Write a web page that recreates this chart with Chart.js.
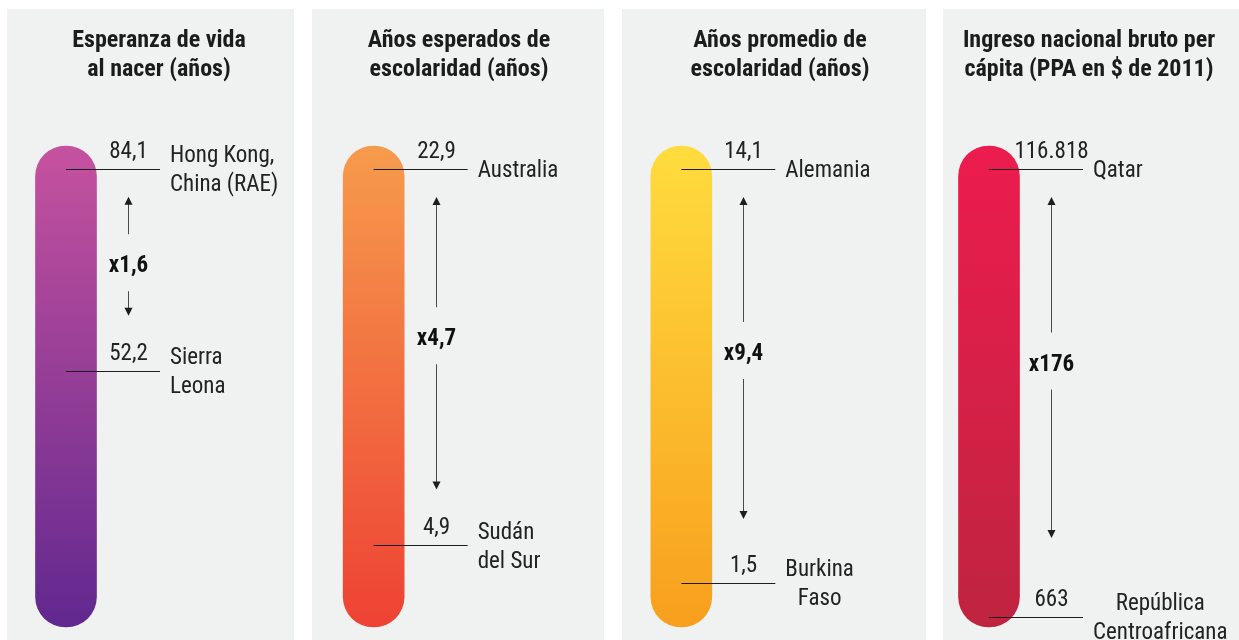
<!DOCTYPE html>
<html>
<head>
<meta charset="utf-8">
<script src="https://cdn.jsdelivr.net/npm/chart.js@4.4.1/dist/chart.umd.min.js"></script>
<style>
  body { margin: 0; background: #fff; }
  #wrap { position: relative; width: 1239px; height: 640px; }
</style>
</head>
<body>
<div id="wrap"><canvas id="chart"></canvas></div>
<script>
// ---- data ----
const indicators = ['Esperanza de vida', 'Años esperados de escolaridad', 'Años promedio de escolaridad', 'INB per cápita'];
const titles = [
  ['Esperanza de vida', 'al nacer (años)'],
  ['Años esperados de', 'escolaridad (años)'],
  ['Años promedio de', 'escolaridad (años)'],
  ['Ingreso nacional bruto per', 'cápita (PPA en $ de 2011)']
];
const highValues = [84.1, 22.9, 14.1, 116818];
const lowValues = [52.2, 4.9, 1.5, 663];
const decimals = [1, 1, 1, 0];
const highCountries = [['Hong Kong,', 'China (RAE)'], ['Australia'], ['Alemania'], ['Qatar']];
const lowCountries = [['Sierra', 'Leona'], ['Sudán', 'del Sur'], ['Burkina', 'Faso'], ['República', 'Centroafricana']];
const ratioLabels = ['x1,6', 'x4,7', 'x9,4', 'x176'];
// each thermometer tube spans its own axis range
const scaleMin = [11.7, 1.0, 0.16, -1930];
const scaleMax = [87.7, 24.0, 14.8, 122782];

// ---- style ----
const tubeTop = ['#c6529f', '#f69b4c', '#ffdc3e', '#ec1c4e'];
const tubeBottom = ['#61288f', '#ee4234', '#f89f1e', '#bf243f'];
const lowAlign = ['left', 'left', 'center', 'center'];
const panels = [[7, 287], [312, 292], [622, 304], [943, 296]];
const titleCenters = [159, 459, 780, 1089];
const arrowGapBottom = [55, 56, 64, 79];
const ratioShift = [8, -6, -6, -5];
const FONT = '"Roboto Condensed", "Roboto", sans-serif';

function fmt(v, d) {
  let [a, b] = v.toFixed(d).split('.');
  a = a.replace(/\B(?=(\d{3})+(?!\d))/g, '.');
  return b ? a + ',' + b : a;
}

function tubeGradient(context, i) {
  const chart = context.chart;
  const area = chart.chartArea;
  if (!area) return tubeTop[i];
  const g = chart.ctx.createLinearGradient(0, area.top, 0, area.bottom);
  g.addColorStop(0, tubeTop[i]);
  g.addColorStop(1, tubeBottom[i]);
  return g;
}

const panelsPlugin = {
  id: 'panels',
  beforeDraw(chart) {
    const c = chart.ctx;
    c.save();
    c.fillStyle = '#f0f1f1';
    panels.forEach(([x, w]) => c.fillRect(x, 9, w, 640 - 9));
    c.fillStyle = '#1c1c1c';
    c.font = 'bold 24px ' + FONT;
    c.textAlign = 'center';
    c.textBaseline = 'alphabetic';
    titles.forEach((lines, i) => {
      lines.forEach((t, k) => c.fillText(t, titleCenters[i], 47 + k * 29));
    });
    c.restore();
  }
};

function drawLabel(c, lines, x, y, align) {
  const lh = 29;
  c.font = '23px ' + FONT;
  c.textBaseline = 'alphabetic';
  const w = Math.max(...lines.map(t => c.measureText(t).width));
  lines.forEach((t, k) => {
    const by = y + (k - (lines.length - 1) / 2) * lh + 8;
    if (align === 'center') {
      c.textAlign = 'center';
      c.fillText(t, x + w / 2, by);
    } else {
      c.textAlign = 'left';
      c.fillText(t, x, by);
    }
  });
}

const markersPlugin = {
  id: 'markers',
  afterDatasetsDraw(chart) {
    const c = chart.ctx;
    const xs = chart.scales.x;
    c.save();
    indicators.forEach((_, i) => {
      const ys = chart.scales['y' + i];
      const x = xs.getPixelForValue(i);
      const ax = Math.round(x + 62) + 0.5;
      const marks = [
        [ys.getPixelForValue(highValues[i]), highValues[i], highCountries[i], 'left'],
        [ys.getPixelForValue(lowValues[i]), lowValues[i], lowCountries[i], lowAlign[i]]
      ];
      marks.forEach(([py, v, names, align]) => {
        const ly = Math.round(py) + 0.5;
        c.strokeStyle = '#1e1e1e';
        c.lineWidth = 1;
        c.beginPath();
        c.moveTo(x, ly);
        c.lineTo(x + 94, ly);
        c.stroke();
        c.fillStyle = '#222';
        c.font = '23px ' + FONT;
        c.textAlign = 'center';
        c.textBaseline = 'alphabetic';
        c.fillText(fmt(v, decimals[i]), ax, py - 11);
        drawLabel(c, names, x + 104, py, align);
      });

      // double arrow with the ratio in between
      const top = marks[0][0] + 28;
      const bottom = marks[1][0] - arrowGapBottom[i];
      const mid = (top + bottom) / 2 + ratioShift[i];
      c.strokeStyle = '#4a4a4a';
      c.fillStyle = '#1e1e1e';
      c.beginPath();
      c.moveTo(ax, top + 6);
      c.lineTo(ax, mid - 30);
      c.moveTo(ax, mid + 27);
      c.lineTo(ax, bottom - 6);
      c.stroke();
      c.beginPath();
      c.moveTo(ax, top); c.lineTo(ax - 4, top + 8); c.lineTo(ax + 4, top + 8); c.closePath();
      c.moveTo(ax, bottom); c.lineTo(ax - 4, bottom - 8); c.lineTo(ax + 4, bottom - 8); c.closePath();
      c.fill();
      c.fillStyle = '#111';
      c.font = 'bold 23px ' + FONT;
      c.textAlign = 'center';
      c.fillText(ratioLabels[i], ax, mid + 8);
    });
    c.restore();
  }
};

const datasets = indicators.map((name, i) => ({
  label: name,
  data: indicators.map((_, j) => (j === i ? [scaleMin[i], scaleMax[i]] : null)),
  yAxisID: 'y' + i,
  backgroundColor: ctx => tubeGradient(ctx, i),
  borderRadius: 31,
  borderSkipped: false,
  barThickness: 61,
  grouped: false,
  clip: false
}));

const scales = { x: { type: 'category', labels: indicators, offset: false, display: false } };
indicators.forEach((_, i) => {
  scales['y' + i] = { type: 'linear', min: scaleMin[i], max: scaleMax[i], display: false };
});

new Chart(document.getElementById('chart'), {
  type: 'bar',
  data: { labels: indicators, datasets },
  options: {
    responsive: true,
    maintainAspectRatio: false,
    animation: false,
    layout: { padding: { top: 146, bottom: 13, left: 66, right: 250 } },
    scales,
    plugins: { legend: { display: false }, tooltip: { enabled: false } }
  },
  plugins: [panelsPlugin, markersPlugin]
});
</script>
</body>
</html>
